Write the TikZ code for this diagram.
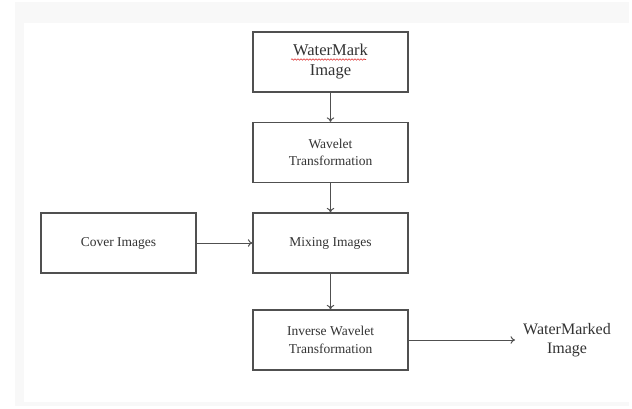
\documentclass[tikz,border=0pt]{standalone}
\usepackage{fontspec}
\setmainfont{Liberation Serif}
\usepackage{xcolor}
\usepackage{tikz}
\usetikzlibrary{arrows.meta,decorations.pathmorphing}
\definecolor{wmLine}{HTML}{505050}
\definecolor{wmText}{HTML}{333333}
\definecolor{wmFrame}{HTML}{F8F8F8}
\definecolor{wmSpell}{HTML}{E03030}
\newcommand{\markName}{WaterMark\\Image}
\newcommand{\waveName}{Wavelet\\Transformation}
\newcommand{\coverName}{Cover Images}
\newcommand{\mixName}{Mixing Images}
\newcommand{\invName}{Inverse Wavelet\\Transformation}
\newcommand{\outName}{WaterMarked\\Image}
\newcommand{\boxW}{155pt}
\newcommand{\boxH}{60pt}

\begin{document}
\begin{tikzpicture}[
  x=1pt, y=-1pt,
  stage/.style={
    rectangle, draw=wmLine, line width=1.2pt, fill=white,
    minimum width=\boxW, minimum height=\boxH, inner sep=2pt,
    align=center, text=wmText, font=\fontsize{13.5}{17.5}\selectfont
  },
  stagebig/.style={stage, font=\fontsize{16.5}{20}\selectfont},
  flow/.style={
    -{To[length=4.5pt,width=7.5pt]},
    draw=wmLine, line width=1pt
  },
  result/.style={align=center, text=wmText, inner sep=8pt,
    font=\fontsize{16}{19}\selectfont}
]
\useasboundingbox (0,0) rectangle (632,409);

% ---- screenshot frame -----------------------------------------------------
\fill[wmFrame] (15,2) rectangle (629,406);
\fill[white] (24,23) rectangle (629,402);

% ---- nodes ----------------------------------------------------------------
\node[stagebig] (mark)  at (330.5,62)  {\markName};
\node[stage]    (wave)  at (330.5,152.5) {\waveName};
\node[stage]    (cover) at (118.5,243) {\coverName};
\node[stage]    (mix)   at (330.5,243) {\mixName};
\node[stage]    (inv)   at (330.5,340) {\invName};
\node[result]   (out)   at (567,340)   {\outName};

% spelling squiggle under "WaterMark"
\draw[wmSpell, line width=0.6pt, decorate,
  decoration={snake, amplitude=0.7pt, segment length=3pt}]
  (291,59.5) -- (366,59.5);

% ---- arrows ---------------------------------------------------------------
\draw[flow] (mark) -- (wave);
\draw[flow] (wave) -- (mix);
\draw[flow] (cover) -- (mix);
\draw[flow] (mix) -- (inv);
\draw[flow] (inv) -- (out);

\end{tikzpicture}
\end{document}
